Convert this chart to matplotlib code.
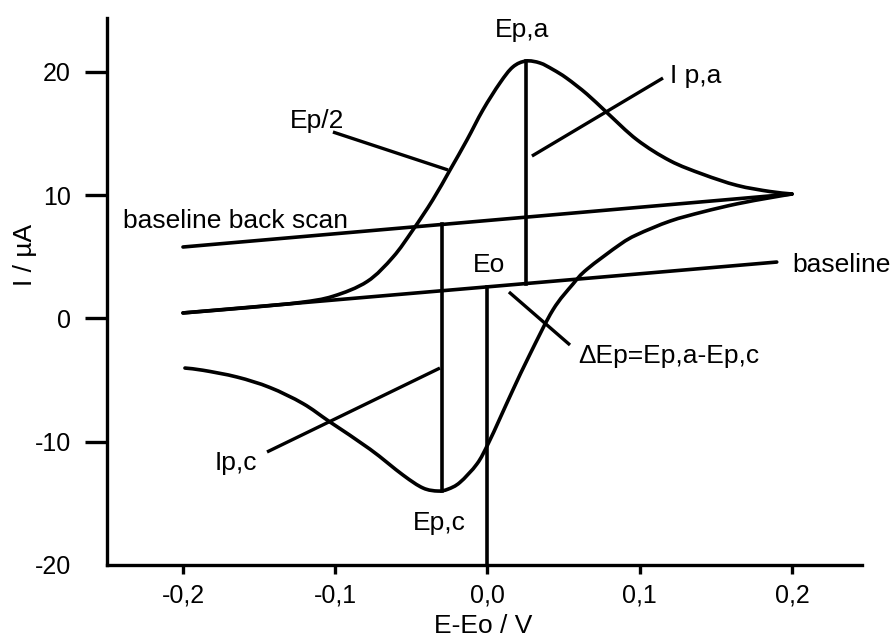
import matplotlib
matplotlib.use("Agg")
import matplotlib.pyplot as plt
from matplotlib.path import Path
from matplotlib.patches import PathPatch
import numpy as np

plt.rcParams['font.family'] = ['Liberation Sans', 'DejaVu Sans']
plt.rcParams['axes.unicode_minus'] = False

# Cyclic voltammogram: forward (anodic) scan from -0.2 V to the vertex at +0.2 V
fwd_E = [-0.2, -0.156, -0.123, -0.1015, -0.079, -0.062, -0.049, -0.036, -0.0246,
         -0.0135, -0.003, 0.0082, 0.0167, 0.0253, 0.0345, 0.043, 0.052, 0.0654,
         0.0785, 0.0982, 0.1199, 0.1415, 0.1639, 0.1856, 0.2]
fwd_I = [0.45, 0.9, 1.3, 1.8, 3.0, 4.99, 7.18, 9.61, 12.05,
         14.48, 16.92, 19.11, 20.41, 20.89, 20.73, 20.2, 19.5, 18.2,
         16.7, 14.5, 12.8, 11.7, 10.8, 10.3, 10.10]

# reverse (cathodic) scan from the vertex back to -0.2 V
rev_E = [0.2, 0.1856, 0.1639, 0.1415, 0.1199, 0.0982, 0.087, 0.0654, 0.0562,
         0.043, 0.0279, 0.0167, 0.0082, 0.0003, -0.0069, -0.0181, -0.026,
         -0.0325, -0.0424, -0.0555, -0.0772, -0.1034, -0.1212, -0.1429, -0.1645,
         -0.1869, -0.1987]
rev_I = [10.10, 9.8, 9.3, 8.65, 7.9, 6.8, 6.0, 4.0, 2.8,
         0.7, -2.9, -5.8, -8.1, -10.2, -11.8, -13.3, -13.85,
         -14.0, -13.75, -12.7, -10.6, -8.4, -6.9, -5.6, -4.75,
         -4.2, -4.02]

# capacitive baselines
baseline_E = [-0.2, 0.19]
baseline_I = [0.45, 4.58]
back_E = [-0.2, 0.2]
back_I = [5.80, 10.10]

# characteristic potentials / currents
Epa, Ipa = 0.0253, 20.9
Epc, Ipc = -0.030, -14.0
E0 = 0.0
I_axis_min = -20

x_ticks = [-0.2, -0.1, 0.0, 0.1, 0.2]
x_tick_labels = ['-0,2', '-0,1', '0,0', '0,1', '0,2']
y_ticks = [-20, -10, 0, 10, 20]
y_tick_labels = ['-20', '-10', '0', '10', '20']

# leader lines: (E_start, I_start, E_end, I_end)
leaders = {
    'Ep/2': (-0.1015, 15.13, -0.0259, 12.05),
    'Ip,a': (0.1153, 19.51, 0.0292, 13.18),
    'dEp': (0.0141, 2.15, 0.0542, -2.15),
    'Ip,c': (-0.1448, -10.83, -0.0312, -4.02),
}

# text labels: (text, E, I)
labels = [
    ('Ep,a', 0.0049, 22.84),
    ('Ep/2', -0.1297, 15.46),
    ('I p,a', 0.1199, 19.1),
    ('baseline back scan', -0.2394, 7.34),
    ('baseline', 0.2, 3.77),
    ('Eo', -0.0095, 3.77),
    ('\u0394Ep=Ep,a-Ep,c', 0.0595, -3.61),
    ('Ip,c', -0.179, -12.29),
    ('Ep,c', -0.0489, -17.16),
]


def smooth_path(xs, ys):
    """Cubic Bezier path passing through every point (Catmull-Rom tangents)."""
    p = np.column_stack([xs, ys]).astype(float)
    ext = np.vstack([p[0] - (p[1] - p[0]), p, p[-1] + (p[-1] - p[-2])])
    verts = [p[0]]
    codes = [Path.MOVETO]
    for k in range(1, len(ext) - 2):
        p0, p1, p2, p3 = ext[k - 1], ext[k], ext[k + 1], ext[k + 2]
        verts += [p1 + (p2 - p0) / 6.0, p2 - (p3 - p1) / 6.0, p2]
        codes += [Path.CURVE4] * 3
    return Path(verts, codes)


W, H = 890, 638
fig = plt.figure(figsize=(W / 100, H / 100), dpi=100)
ax = fig.add_axes([107 / W, 1 - 565 / H, (862 - 107) / W, (565 - 18) / H])

lw = 2.6
for xs, ys in ((fwd_E, fwd_I), (rev_E, rev_I)):
    ax.add_patch(PathPatch(smooth_path(xs, ys), facecolor='none', edgecolor='black',
                           lw=lw, capstyle='round', joinstyle='round'))
ax.plot(baseline_E, baseline_I, color='black', lw=lw, solid_capstyle='round')
ax.plot(back_E, back_I, color='black', lw=lw, solid_capstyle='round')

# vertical markers
base_at_Epa = np.interp(Epa, baseline_E, baseline_I)
back_at_Epc = np.interp(Epc, back_E, back_I)
base_at_E0 = np.interp(E0, baseline_E, baseline_I)
ax.plot([Epa, Epa], [Ipa, base_at_Epa], color='black', lw=lw)
ax.plot([Epc, Epc], [back_at_Epc, Ipc], color='black', lw=lw)
ax.plot([E0, E0], [base_at_E0, I_axis_min], color='black', lw=lw)

for e1, i1, e2, i2 in leaders.values():
    ax.plot([e1, e2], [i1, i2], color='black', lw=2.4, solid_capstyle='butt')

for txt, e, i in labels:
    ax.text(e, i, txt, fontsize=19, ha='left', va='baseline', color='black')

ax.set_xlim(-0.2499, 0.246)
ax.set_ylim(-20, 24.38)

ax.set_xticks(x_ticks)
ax.set_xticklabels(x_tick_labels, fontsize=18)
ax.set_yticks(y_ticks)
ax.set_yticklabels(y_tick_labels, fontsize=18)

ax.spines['top'].set_visible(False)
ax.spines['right'].set_visible(False)
for side in ('left', 'bottom'):
    ax.spines[side].set_linewidth(2.4)

ax.tick_params(axis='y', direction='out', length=16, width=2.4, pad=10)
ax.tick_params(axis='x', direction='out', length=6.5, width=2.4, pad=7)
ax.yaxis.get_major_ticks()[0].tick1line.set_visible(False)

fig.text(25 / W, 1 - 255 / H, 'I / \u00b5A', rotation=90, fontsize=19,
         ha='center', va='center')
fig.text(483 / W, 5 / H, 'E-Eo / V', fontsize=19, ha='center', va='baseline')

fig.savefig('out.png', dpi=100)
